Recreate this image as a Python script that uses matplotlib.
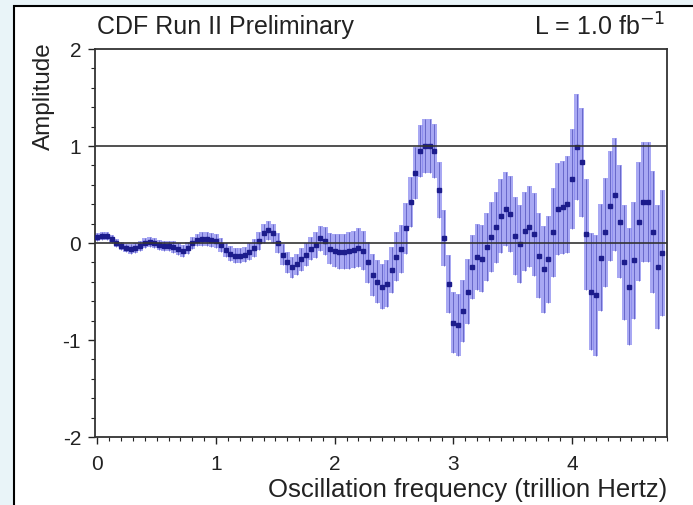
import numpy as np
import matplotlib.pyplot as plt
from matplotlib.patches import Rectangle
from matplotlib.ticker import MultipleLocator

plt.rcParams['font.family'] = ['Liberation Sans', 'DejaVu Sans']
plt.rcParams['axes.unicode_minus'] = False

# scan points (trillion Hertz), step 0.04
freq = np.arange(0, 4.8, 0.04)

amp = [0.06, 0.07, 0.07, 0.04, 0.00, -0.03, -0.05, -0.06, -0.05, -0.03,
       0.00, 0.01, 0.00, -0.02, -0.03, -0.03, -0.04, -0.06, -0.08, -0.05,
       0.00, 0.03, 0.04, 0.04, 0.03, 0.02, -0.02, -0.07, -0.11, -0.13,
       -0.13, -0.12, -0.09, -0.05, 0.02, 0.10, 0.13, 0.10, 0.00, -0.12,
       -0.20, -0.25, -0.22, -0.17, -0.12, -0.06, -0.02, 0.05, 0.02, -0.06,
       -0.08, -0.09, -0.09, -0.08, -0.07, -0.05, -0.08, -0.20, -0.33, -0.40,
       -0.45, -0.42, -0.28, -0.14, -0.06, 0.15, 0.42, 0.72, 0.95, 1.00,
       1.00, 0.95, 0.55, 0.05, -0.42, -0.82, -0.85, -0.70, -0.50, -0.25,
       -0.14, -0.16, -0.04, 0.06, 0.16, 0.28, 0.35, 0.30, 0.07, -0.01,
       0.12, 0.17, 0.09, -0.13, -0.27, -0.17, 0.11, 0.35, 0.37, 0.40,
       0.66, 0.99, 0.83, 0.09, -0.50, -0.54, -0.15, 0.11, 0.38, 0.50,
       0.22, -0.20, -0.45, -0.18, 0.22, 0.42, 0.42, 0.11, -0.25, -0.10]

err = [0.04, 0.04, 0.04, 0.04, 0.04, 0.04, 0.04, 0.05, 0.05, 0.05,
       0.05, 0.05, 0.05, 0.05, 0.05, 0.05, 0.06, 0.06, 0.06, 0.06,
       0.06, 0.06, 0.07, 0.07, 0.07, 0.07, 0.07, 0.07, 0.08, 0.08,
       0.08, 0.08, 0.09, 0.09, 0.09, 0.10, 0.10, 0.10, 0.10, 0.11,
       0.11, 0.11, 0.11, 0.12, 0.12, 0.12, 0.13, 0.13, 0.14, 0.16,
       0.17, 0.18, 0.18, 0.19, 0.19, 0.20, 0.20, 0.21, 0.22, 0.22,
       0.23, 0.24, 0.24, 0.25, 0.25, 0.26, 0.26, 0.27, 0.27, 0.28,
       0.28, 0.28, 0.29, 0.29, 0.30, 0.31, 0.32, 0.32, 0.33, 0.33,
       0.34, 0.35, 0.35, 0.36, 0.37, 0.38, 0.38, 0.39, 0.40, 0.40,
       0.41, 0.42, 0.43, 0.44, 0.45, 0.45, 0.46, 0.47, 0.48, 0.50,
       0.52, 0.55, 0.56, 0.57, 0.60, 0.62, 0.55, 0.56, 0.57, 0.58,
       0.58, 0.59, 0.60, 0.60, 0.61, 0.62, 0.62, 0.63, 0.64, 0.65]

amp = np.array(amp)
err = np.array(err)

fig = plt.figure(figsize=(6.93, 5.06), dpi=100)
fig.patch.set_facecolor('#e9f4f8')
fig.patches.append(Rectangle((14 / 693, -0.05), 1.0, 1 - 7 / 506 + 0.05,
                             transform=fig.transFigure, facecolor='white',
                             edgecolor='black', linewidth=1.5, zorder=-10))

ax = fig.add_axes([95 / 693, 1 - 438 / 506, (667 - 95) / 693, (438 - 50) / 506])
ax.set_zorder(5)
ax.set_facecolor('white')

ax.bar(freq, 2 * err, bottom=amp - err, width=0.042, color='#8484ee',
       alpha=0.7, linewidth=0, zorder=2)
ax.vlines(freq, amp - err, amp + err, color='#4a4ab8', linewidth=0.6,
          alpha=0.8, zorder=3)
ax.plot(freq, amp, 's', color='#1c1c8c', markersize=3.2, zorder=4)

ax.axhline(0, color='#333333', linewidth=1.2, zorder=5)
ax.axhline(1, color='#333333', linewidth=1.2, zorder=5)

ax.set_xlim(-0.02, 4.8)
ax.set_ylim(-2, 2)
ax.xaxis.set_major_locator(MultipleLocator(1))
ax.xaxis.set_minor_locator(MultipleLocator(0.1))
ax.yaxis.set_major_locator(MultipleLocator(1))
ax.yaxis.set_minor_locator(MultipleLocator(0.2))
ax.tick_params(which='both', direction='out', labelsize=15, colors='#222222')
ax.tick_params(which='major', length=5, width=1)
ax.tick_params(which='minor', length=3, width=0.8)
ax.tick_params(axis='x', pad=7)
ax.tick_params(axis='y', pad=5)
for s in ax.spines.values():
    s.set_color('#333333')
    s.set_linewidth(1.3)

ax.set_xlabel('Oscillation frequency (trillion Hertz)', fontsize=18.5,
              loc='right', labelpad=3, color='#222222')
fig.text(44 / 693, 1 - 96 / 506, 'Amplitude', rotation=90, fontsize=17.5,
         ha='center', va='center', color='#222222')
fig.text(97 / 693, 1 - 27 / 506, 'CDF Run II Preliminary', fontsize=18,
         ha='left', va='center', color='#222222')
fig.text(665 / 693, 1 - 27 / 506, 'L = 1.0 fb$^{-1}$', fontsize=18,
         ha='right', va='center', color='#222222')

fig.savefig('out.png', dpi=100, facecolor=fig.get_facecolor())
